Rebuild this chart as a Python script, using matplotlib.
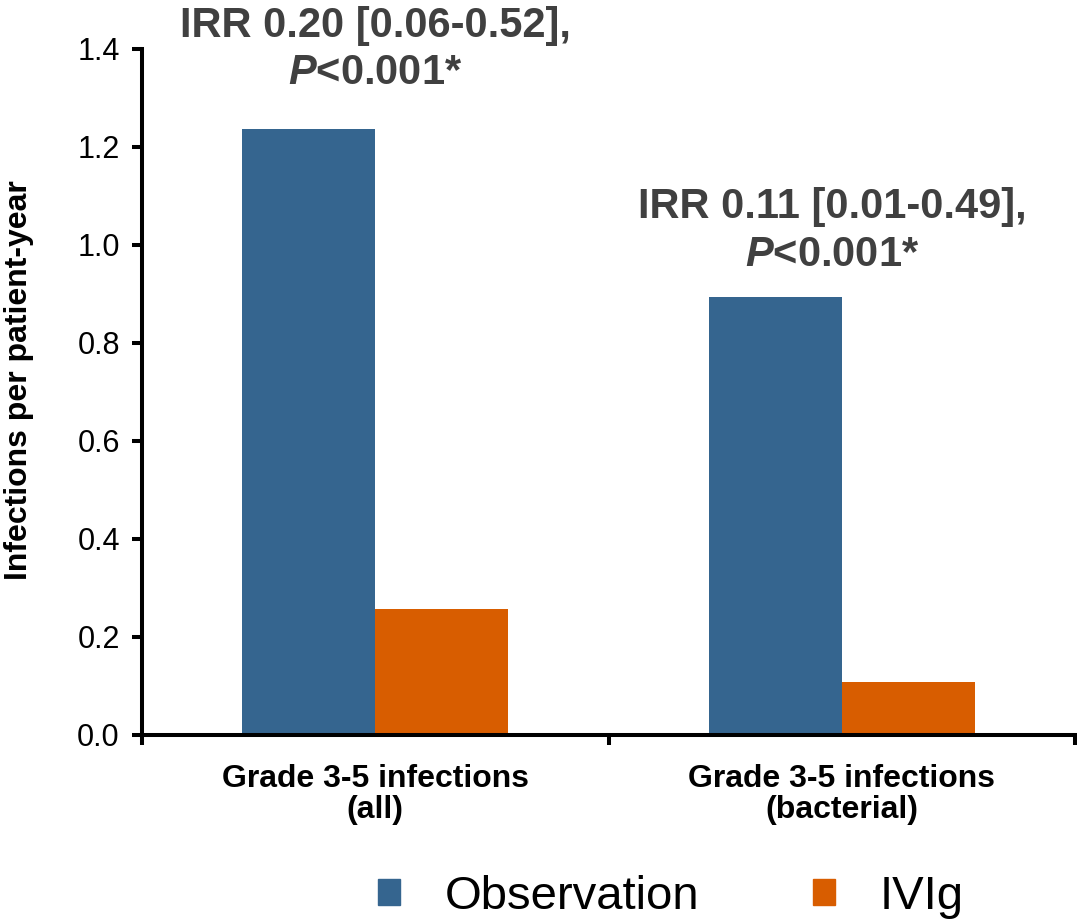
import matplotlib
matplotlib.use("Agg")
import matplotlib.pyplot as plt
from matplotlib.patches import Patch
import numpy as np

plt.rcParams['font.family'] = ['Liberation Sans', 'DejaVu Sans']
plt.rcParams['mathtext.fontset'] = 'custom'
plt.rcParams['mathtext.it'] = 'Liberation Sans:italic:bold'
plt.rcParams['mathtext.rm'] = 'Liberation Sans:bold'

# data
categories = ['Grade 3-5 infections\n(all)', 'Grade 3-5 infections\n(bacterial)']
observation = [1.237, 0.893]
ivig = [0.257, 0.108]
irr_labels = ['IRR 0.20 [0.06-0.52],', 'IRR 0.11 [0.01-0.49],']
series_names = ['Observation', 'IVIg']

blue = '#35658f'
orange = '#d85d00'
grey_txt = '#404040'

fig = plt.figure(figsize=(10.77, 9.23), dpi=100)
ax = fig.add_axes([142/1077, 1-735/923, (1075-142)/1077, (735-49)/923])

x = np.arange(len(categories))
w = 0.285
ax.bar(x - w/2, observation, w, color=blue)
ax.bar(x + w/2, ivig, w, color=orange)

ax.set_xlim(-0.5, 1.5)
ax.set_ylim(0, 1.4)
ax.set_yticks(np.arange(0, 1.41, 0.2))
ax.set_yticklabels(['%.1f' % v for v in np.arange(0, 1.41, 0.2)], fontsize=22)
ax.set_xticks([-0.5, 0.5, 1.5])
ax.set_xticklabels(['', '', ''])
ax.set_xticks(x, categories, minor=True, fontsize=23, fontweight='bold', linespacing=1.05)
ax.tick_params(axis='both', which='major', length=7, width=2.9, color='black')
ax.tick_params(axis='x', which='minor', length=0, pad=21)
ax.tick_params(axis='y', pad=9)

for s in ['top', 'right']:
    ax.spines[s].set_visible(False)
for s in ['left', 'bottom']:
    ax.spines[s].set_linewidth(2.9)
ax.spines['left'].set_capstyle('projecting')

ax.set_ylabel('Infections per patient-year', fontsize=23, fontweight='bold', va='center')
ax.yaxis.set_label_coords(-0.132, 0.517)

# IRR annotations
ann_pos = [(0, 1.385), (0.98, 1.015)]
for (px, py), lab in zip(ann_pos, irr_labels):
    ax.text(px, py + 0.04, lab, ha='center', va='baseline', fontsize=30,
            fontweight='bold', color=grey_txt, clip_on=False)
    ax.text(px, py - 0.057, r'$\mathit{P}$<0.001*', ha='center', va='baseline', fontsize=30,
            fontweight='bold', color=grey_txt, clip_on=False)

handles = [Patch(color=blue), Patch(color=orange)]
fig.legend(handles, series_names, loc='center', bbox_to_anchor=(0.623, 0.028),
           ncol=2, frameon=False, fontsize=34, handlelength=0.47, handleheight=0.47,
           handletextpad=0.95, columnspacing=2.4, borderpad=0.2)

fig.savefig('out.png', dpi=100)
